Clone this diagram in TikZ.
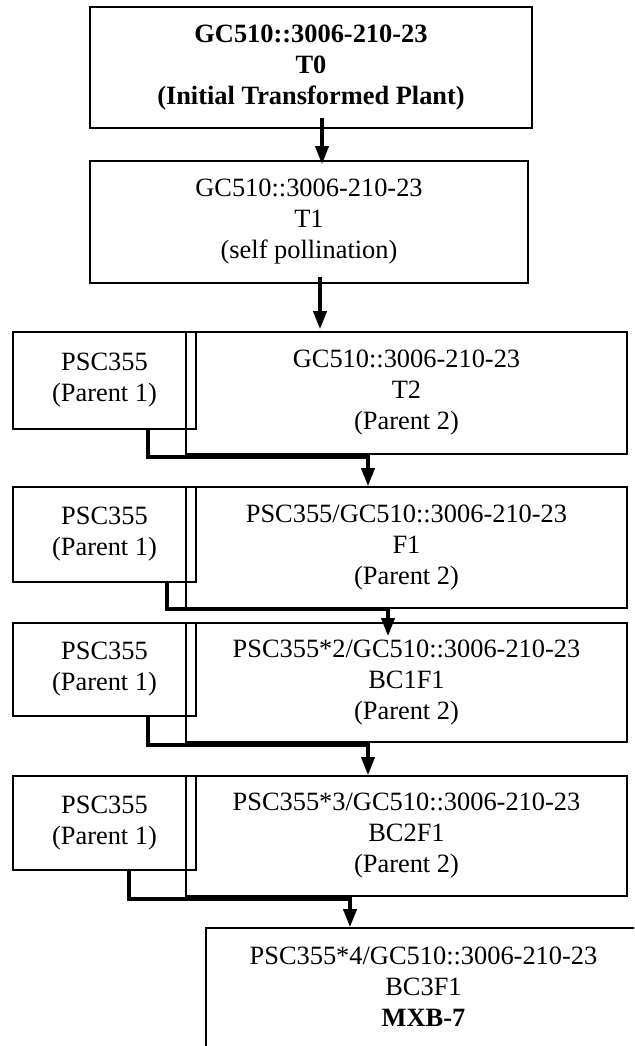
\documentclass[tikz,border=0pt]{standalone}
\usepackage{fontspec}
\setmainfont{Liberation Serif}
\usepackage{tikz}
\usetikzlibrary{
        arrows.meta,
        positioning
    }
\tikzset{>={Triangle[length=9pt,width=6.5pt]}}
\tikzset{box/.style={draw,line width=0.8pt,align=center,inner sep=0pt,
        font=\fontsize{13.2}{15.5}\selectfont},
    parent/.style={box,minimum width=91.5pt},
    line/.style={box,minimum width=220.5pt,minimum height=60.5pt},
    link/.style={->,line width=1.8pt}}

\begin{document}
\begin{tikzpicture}[x=0.5pt,y=-0.5pt]
                    \path[use as bounding box,clip] (0,0) rectangle (634,1046);
                    % selfing line
                    \node[box,minimum width=221pt,minimum height=60.5pt] (t0) at (311,67.5)
                        {\bfseries GC510::3006-210-23\\\bfseries T0\\\bfseries (Initial Transformed Plant)};
                    \node[box,minimum width=219pt,minimum height=61pt] (t1) at (309,222)
                        {GC510::3006-210-23\\T1\\(self pollination)};
                    % crossing rows
                    \node[line,minimum height=61pt] (t2) at (406.5,393)
                        {GC510::3006-210-23\\T2\\(Parent 2)};
                    \node[parent,minimum height=48.5pt] (p2) at (104.5,380.5)
                        {PSC355\\(Parent 1)};
                    \node[line,minimum height=60.5pt] (f1) at (406.5,547.5)
                        {PSC355/GC510::3006-210-23\\F1\\(Parent 2)};
                    \node[parent,minimum height=47.5pt] (p3) at (104.5,534.5)
                        {PSC355\\(Parent 1)};
                    \node[line,minimum height=59.5pt] (bc1) at (406.5,682.5)
                        {PSC355*2/GC510::3006-210-23\\BC1F1\\(Parent 2)};
                    \node[parent,minimum height=46.5pt] (p4) at (104.5,669.5)
                        {PSC355\\(Parent 1)};
                    \node[line,minimum height=60pt] (bc2) at (406.5,836)
                        {PSC355*3/GC510::3006-210-23\\BC2F1\\(Parent 2)};
                    \node[parent,minimum height=47pt] (p5) at (104.5,823)
                        {PSC355\\(Parent 1)};
                    % final line
                    \node[box,minimum width=247pt,minimum height=76pt] (bc3) at (453,1004) {};
                    \node[box,draw=none] (mxb) at (423.5,987)
                        {PSC355*4/GC510::3006-210-23\\BC3F1\\\bfseries MXB-7};
                    \draw[link] ([xshift=5.5pt,yshift=5.5pt]t0.south) -- ([xshift=6.5pt,yshift=-2pt]t1.north);
                    \draw[link] ([xshift=5.5pt,yshift=3.5pt]t1.south) -- ([xshift=-43.25pt,yshift=1pt]t2.north);
                    \draw[link] ([xshift=21.75pt]p2.south) -- ++(0,27) -| ([xshift=-19.25pt]f1.north);
                    \draw[link] ([xshift=31.25pt]p3.south) -- ++(0,26) -| ([xshift=-9.25pt,yshift=-7pt]bc1.north);
                    \draw[link] ([xshift=21.75pt]p4.south) -- ++(0,28) -| ([xshift=-19.25pt]bc2.north);
                    \draw[link] ([xshift=12.25pt]p5.south) -- ++(0,28) -| ([xshift=-51.5pt]bc3.north);
                \end{tikzpicture}
\end{document}
